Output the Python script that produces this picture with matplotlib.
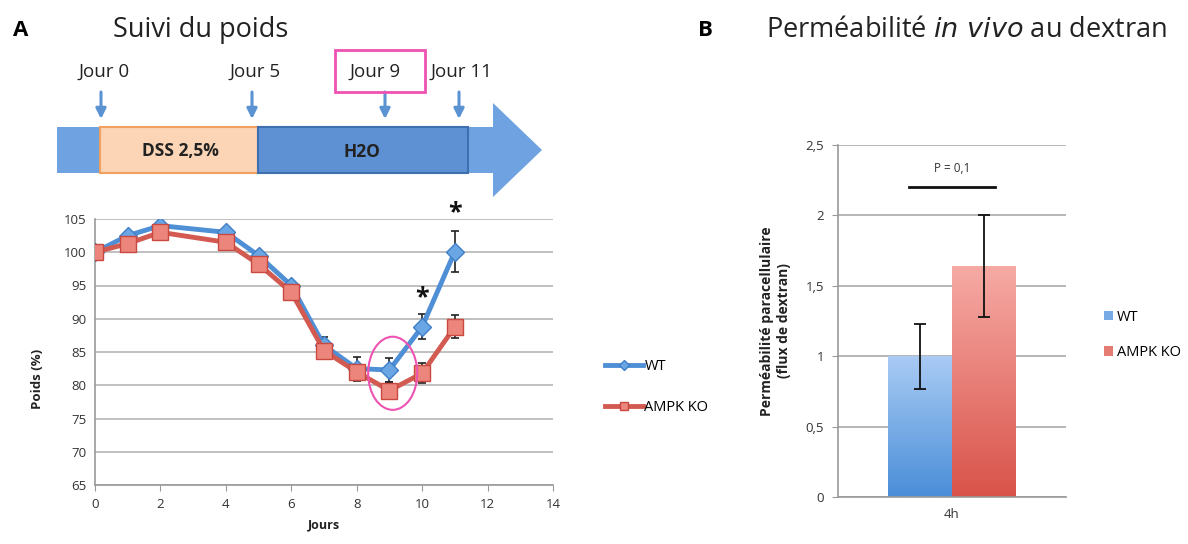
import numpy as np
import matplotlib.pyplot as plt
from matplotlib.patches import Rectangle, Polygon, Ellipse, FancyArrowPatch

plt.rcParams['font.family'] = ['Open Sans', 'DejaVu Sans']

# panel A data: weight follow-up (%)
jours = [0, 1, 2, 4, 5, 6, 7, 8, 9, 10, 11]
poids_wt = [100, 102.5, 104, 103, 99.5, 95, 86, 82.5, 82.3, 88.8, 100.1]
err_wt = [0.5, 0.5, 0.5, 0.5, 0.6, 0.6, 1.2, 1.8, 1.8, 1.9, 3.1]
poids_ko = [100, 101.3, 103, 101.5, 98.2, 94, 85.2, 82, 79.2, 81.8, 88.8]
err_ko = [0.5, 0.5, 0.5, 0.5, 0.6, 0.6, 0.6, 0.8, 1.3, 1.5, 1.7]
etoiles_x = [10, 11]
etoiles_y = [93.1, 105.9]

# panel B data: dextran permeability at 4h
groupes = ['WT', 'AMPK KO']
perm = [1.0, 1.64]
perm_err = [0.23, 0.36]

bleu = '#4f8fd6'
rouge = '#d25a51'
rose = '#ee52b2'

fig = plt.figure(figsize=(11.88, 5.44), dpi=100)

# overlay in pixel coords for titles and the timeline
ov = fig.add_axes([0, 0, 1, 1])
ov.set_xlim(0, 1188)
ov.set_ylim(544, 0)
ov.axis('off')

ov.text(21, 30, 'A', fontsize=16, fontweight='bold', ha='center', va='center')
ov.text(113, 30, 'Suivi du poids', fontsize=19.5, ha='left', va='center', color='#222222')
ov.text(705, 30, 'B', fontsize=16, fontweight='bold', ha='center', va='center')
ov.text(766, 30, 'Perméabilité $\\it{in\\ vivo}$ au dextran', fontsize=19.5, ha='left',
        va='center', color='#222222')

# timeline bar
ov.add_patch(Polygon([(468, 127), (493, 127), (493, 103), (542, 150), (493, 197),
                      (493, 173), (468, 173)], closed=True, facecolor='#6ea2e0', edgecolor='none'))
ov.add_patch(Rectangle((57, 127), 43, 46, facecolor='#6ea2e0', edgecolor='none'))
ov.add_patch(Rectangle((100, 127), 158, 46, facecolor='#fbd5b5', edgecolor='#f0a060', lw=1.5))
ov.add_patch(Rectangle((258, 127), 210, 46, facecolor='#5d91d4', edgecolor='#3e70b0', lw=1.5))
ov.text(180, 151, 'DSS 2,5%', fontsize=12.5, fontweight='bold', ha='center', va='center', color='#222222')
ov.text(362, 152, 'H2O', fontsize=12.5, fontweight='bold', ha='center', va='center', color='#222222')

fleches_x = [101, 252, 385, 459]
textes_x = [104, 255, 375, 461]
for xf, xt, lab in zip(fleches_x, textes_x, ['Jour 0', 'Jour 5', 'Jour 9', 'Jour 11']):
    ov.text(xt, 72, lab, fontsize=13.5, ha='center', va='center', color='#222222')
    ov.add_patch(FancyArrowPatch((xf, 92), (xf, 119), arrowstyle='-|>', mutation_scale=15,
                                 color='#5a92d2', lw=2.2, shrinkA=0, shrinkB=0))
ov.add_patch(Rectangle((335, 50), 90, 42, facecolor='none', edgecolor=rose, lw=2))

# panel A
ax = fig.add_axes([95 / 1188, 1 - 485 / 544, 458 / 1188, 266 / 544])
ax.errorbar(jours, poids_wt, yerr=err_wt, fmt='none', ecolor='#222222', elinewidth=1.2,
            capsize=3, capthick=1.2, zorder=2)
ax.errorbar(jours, poids_ko, yerr=err_ko, fmt='none', ecolor='#222222', elinewidth=1.2,
            capsize=3, capthick=1.2, zorder=2)
ax.plot(jours, poids_wt, color=bleu, lw=3.5, marker='D', ms=9, mfc='#6aa5e4', mec='#3f7fc8',
        mew=1, label='WT', zorder=3)
ax.plot(jours, poids_ko, color=rouge, lw=3.5, marker='s', ms=11, mfc='#ec857c', mec='#c9483f',
        mew=1, label='AMPK KO', zorder=3)
for xs, ys in zip(etoiles_x, etoiles_y):
    ax.text(xs, ys, '*', fontsize=18, ha='center', va='center', color='#111111', fontweight='bold')
ax.add_patch(Ellipse((9.1, 81.8), 1.5, 11, facecolor='none', edgecolor=rose, lw=1.5, zorder=4))

ax.set_xlim(0, 14)
ax.set_ylim(65, 105)
ax.set_xticks(range(0, 15, 2))
ax.set_yticks(range(65, 106, 5))
ax.yaxis.grid(True, color='#b5b5b5', lw=1.2)
ax.set_axisbelow(True)
for s in ['top', 'right']:
    ax.spines[s].set_visible(False)
for s in ['left', 'bottom']:
    ax.spines[s].set_color('#999999')
    ax.spines[s].set_linewidth(1.2)
ax.tick_params(axis='both', colors='#999999', labelcolor='#333333', labelsize=9.5, length=4)
ax.tick_params(axis='y', length=0, pad=6)
ax.tick_params(axis='x', pad=5)
ax.set_xlabel('Jours', fontsize=9, fontweight='bold', color='#222222', labelpad=6)
ax.set_ylabel('Poids (%)', fontsize=9.5, fontweight='bold', color='#222222')
ax.yaxis.set_label_coords(-0.112, 0.40)
ax.legend(loc='center left', bbox_to_anchor=(592 / 1188, 1 - 387 / 544),
          bbox_transform=fig.transFigure, frameon=False, fontsize=10.5, handlelength=2.6,
          handletextpad=0.1, labelspacing=1.8, markerscale=0.55)

# panel B
bx = fig.add_axes([838 / 1188, 1 - 497 / 544, 228 / 1188, 352 / 544])
largeur = 0.28
pos = [-largeur / 2, largeur / 2]
degrades = [('#a9cbf4', '#4a8ed8'), ('#f6aaa4', '#d9534a')]
barres = bx.bar(pos, perm, width=largeur, color=['#78aae6', '#e57c74'], label=groupes, zorder=2)
for b, (haut, bas) in zip(barres, degrades):
    x0, y0, w, h = b.get_x(), b.get_y(), b.get_width(), b.get_height()
    c1 = np.array(plt.matplotlib.colors.to_rgb(haut))
    c2 = np.array(plt.matplotlib.colors.to_rgb(bas))
    t = np.linspace(0, 1, 100)[:, None, None]
    img = c1 * (1 - t) + c2 * t
    im = bx.imshow(img, extent=[x0, x0 + w, y0, y0 + h], aspect='auto', zorder=2.5, origin='upper')
    im.set_clip_path(b)
bx.errorbar(pos, perm, yerr=perm_err, fmt='none', ecolor='#111111', elinewidth=1.3,
            capsize=4, capthick=1.3, zorder=3)
bx.plot([-0.19, 0.19], [2.2, 2.2], color='#111111', lw=2)
bx.text(0, 2.33, 'P = 0,1', fontsize=8.5, ha='center', va='center', color='#333333')

bx.set_xlim(-0.5, 0.5)
bx.set_ylim(0, 2.5)
bx.set_xticks([0])
bx.set_xticklabels(['4h'])
bx.set_yticks([0, 0.5, 1, 1.5, 2, 2.5])
bx.set_yticklabels(['0', '0,5', '1', '1,5', '2', '2,5'])
bx.yaxis.grid(True, color='#aaaaaa', lw=1.2)
bx.set_axisbelow(True)
for s in ['top', 'right']:
    bx.spines[s].set_visible(False)
for s in ['left', 'bottom']:
    bx.spines[s].set_color('#999999')
    bx.spines[s].set_linewidth(1.2)
bx.tick_params(axis='both', colors='#999999', labelcolor='#333333', labelsize=9.5)
bx.tick_params(axis='x', length=0, pad=8)
bx.tick_params(axis='y', length=4, pad=6)
bx.set_ylabel('Perméabilité paracellulaire\n(flux de dextran)', fontsize=10,
              fontweight='bold', color='#222222', linespacing=1.3)
bx.yaxis.set_label_coords(-0.205, 0.5)
bx.legend(loc='center left', bbox_to_anchor=(1091 / 1188, 1 - 335 / 544),
          bbox_transform=fig.transFigure, frameon=False, fontsize=10.5, handlelength=0.6,
          handleheight=0.6, handletextpad=0.3, labelspacing=1.4)

fig.savefig('out.png', dpi=100)
